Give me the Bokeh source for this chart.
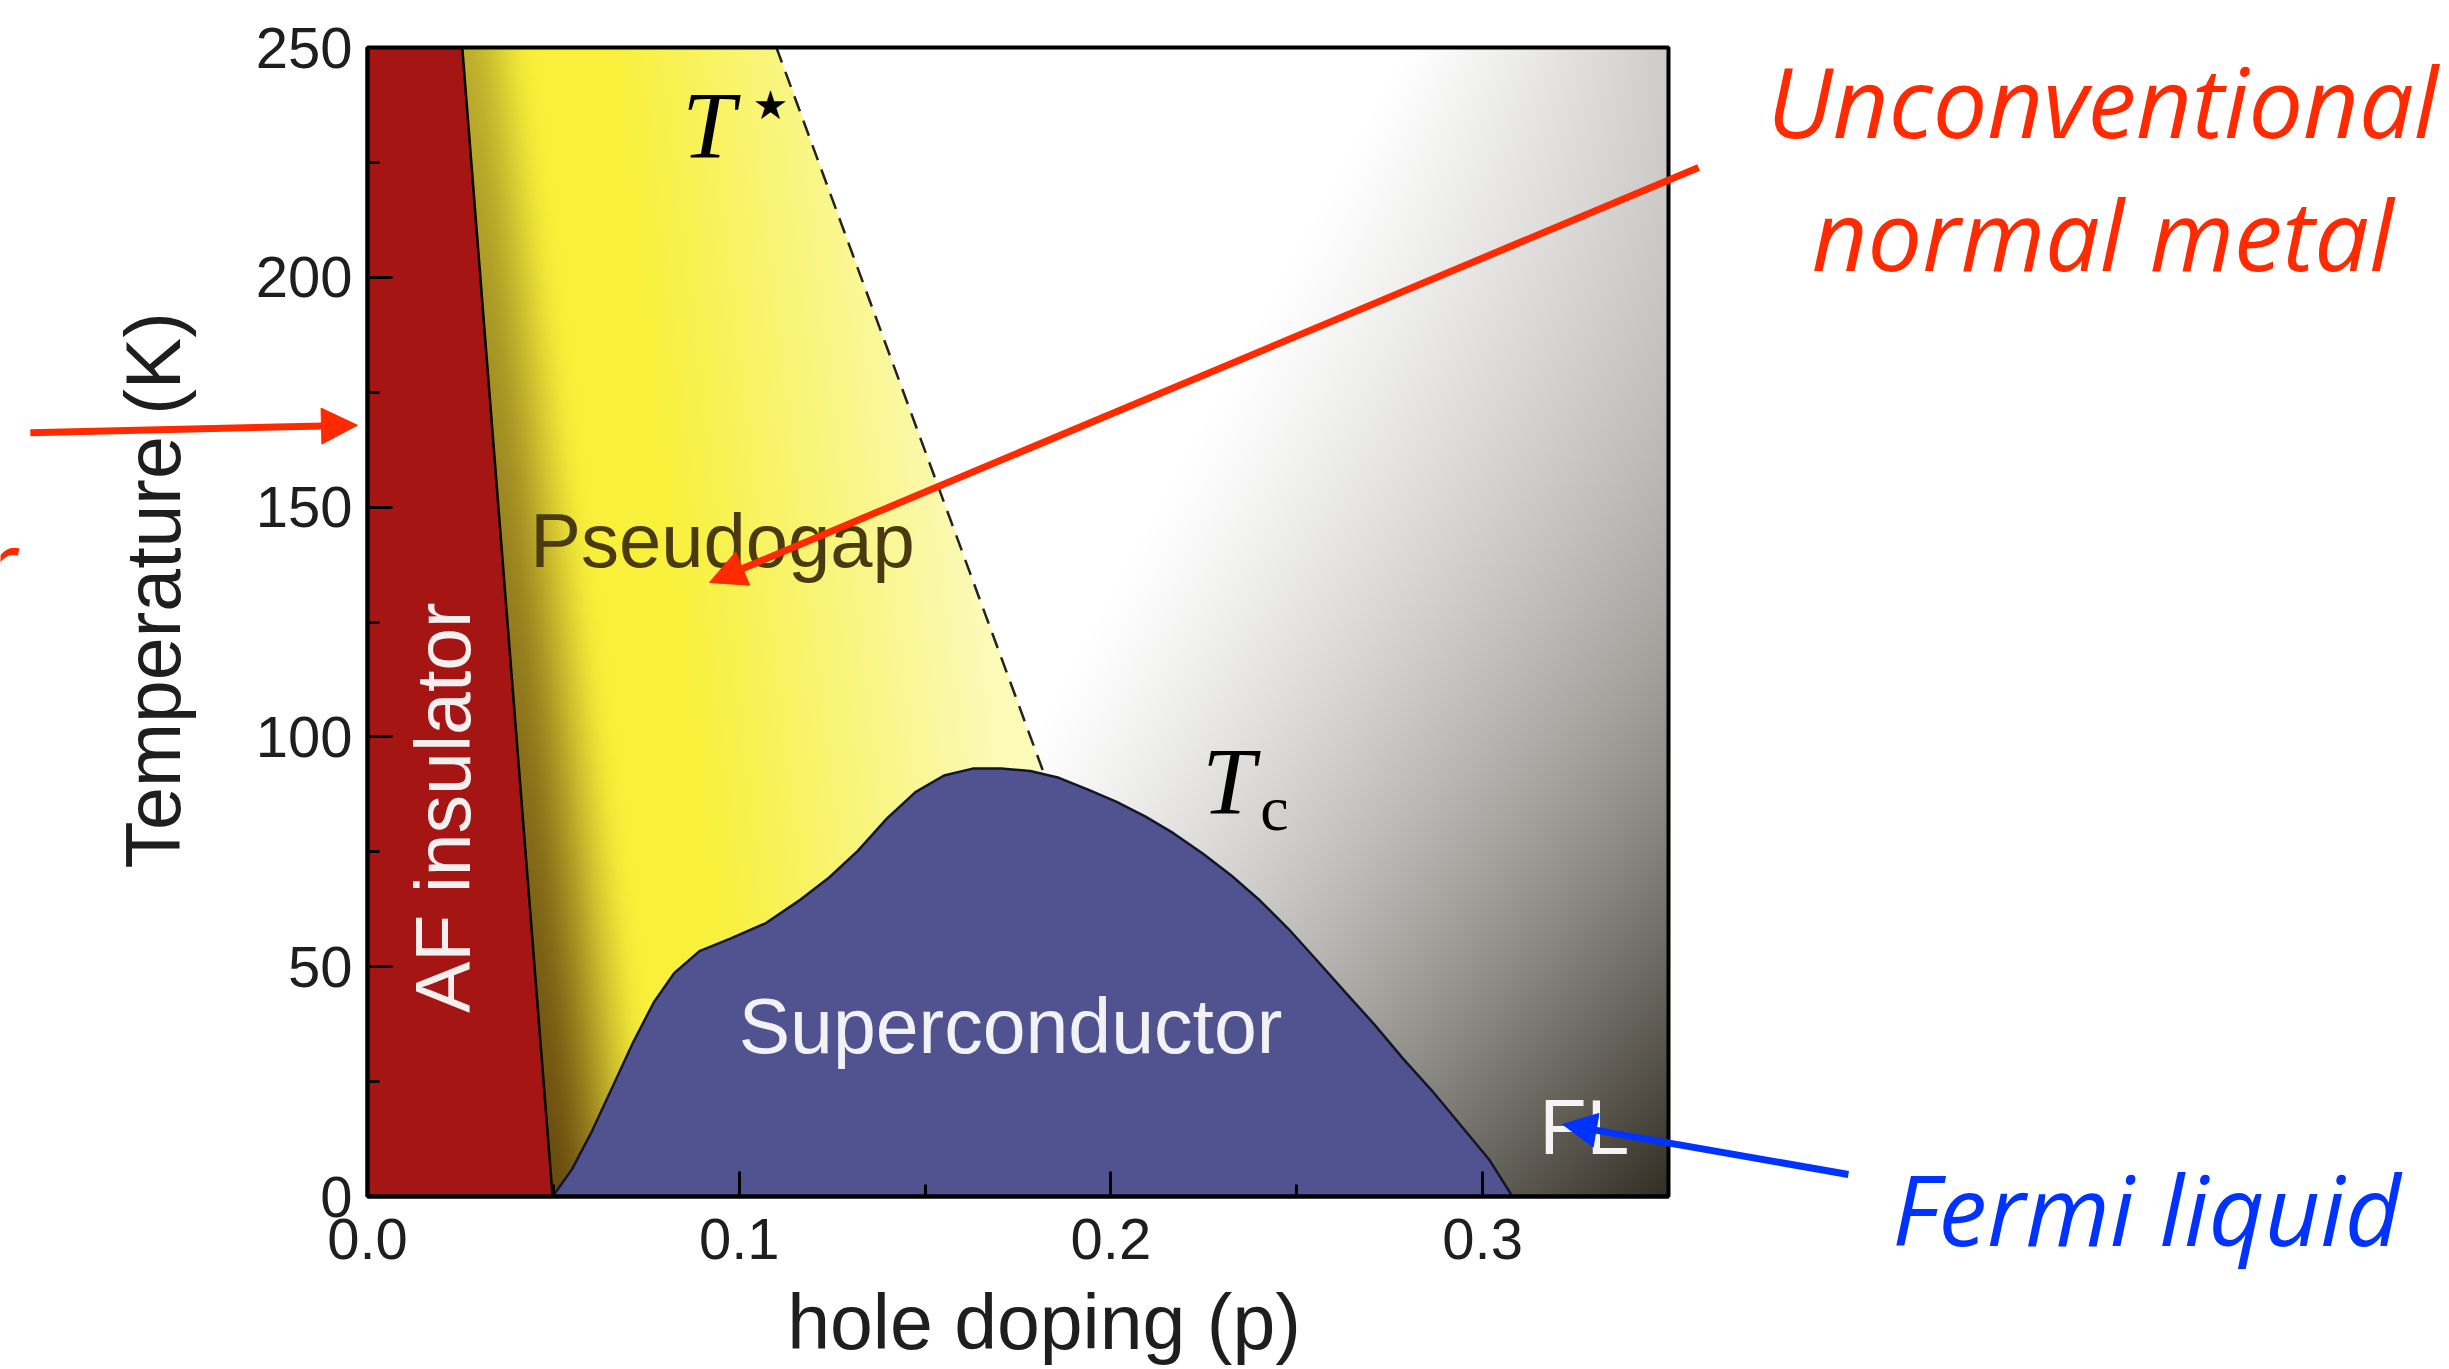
import numpy as np
from bokeh.plotting import figure
from bokeh.models import (Range1d, FixedTicker, PrintfTickFormatter, Label,
                          Arrow, NormalHead, LinearAxis)
from bokeh.embed import file_html
from bokeh.resources import INLINE

# Cuprate phase diagram: hole doping p versus temperature T (K)
af_edge_p = [0.0255, 0.0498]          # edge of the antiferromagnetic insulator
af_edge_T = [250.0, 0.0]

tstar_p = [0.110, 0.182]              # pseudogap crossover line T*
tstar_T = [250.0, 92.0]

# superconducting dome Tc(p)
dome_p = [0.0498, 0.0550, 0.0605, 0.0660, 0.0715, 0.0770, 0.0825, 0.0893,
          0.0976, 0.1072, 0.1165, 0.1242, 0.1319, 0.1397, 0.1474, 0.1551,
          0.1628, 0.1705, 0.1783, 0.1860, 0.1937, 0.2014, 0.2092, 0.2169,
          0.2246, 0.2323, 0.2401, 0.2478, 0.2555, 0.2632, 0.2709, 0.2787,
          0.2864, 0.2941, 0.3018, 0.3080]
dome_T = [0.0, 5.9, 14.4, 24.0, 33.6, 42.2, 48.6, 53.4,
          56.1, 59.5, 64.6, 69.4, 75.2, 82.2, 88.0, 91.6,
          93.1, 93.1, 92.6, 91.1, 88.6, 85.9, 82.7, 79.0,
          74.7, 69.9, 64.4, 58.2, 51.3, 44.3, 37.4, 29.9,
          23.0, 15.5, 8.0, 0.0]

x_major = [0.0, 0.1, 0.2, 0.3]
x_minor = [0.05, 0.15, 0.25]
y_major = [0, 50, 100, 150, 200, 250]
y_minor = [25, 75, 125, 175, 225]

P_MAX, T_MAX = 0.35, 250.0

# page geometry: the diagram box sits inside a wider slide-like canvas
W, H = 2449, 1369
BOX_L, BOX_R, BOX_T, BOX_B = 367, 1668, 47, 1196
kx = P_MAX / (BOX_R - BOX_L)
ky = T_MAX / (BOX_B - BOX_T)

SANS = "Liberation Sans"
SERIF = "Liberation Serif"
NOTE = "Open Sans"
RED = "#FF2A00"
BLUE = "#0033FF"
INK = "#1e1e1e"

# ---------------------------------------------------------------- shading
nx, ny = 651, 575
gp = (np.arange(nx) + 0.5) / nx * P_MAX
gT = (np.arange(ny) + 0.5) / ny * T_MAX
P, T = np.meshgrid(gp, gT)
u, v = P / P_MAX, T / T_MAX


def mix(a, b, f):
    a = np.asarray(a, float)
    b = np.asarray(b, float)
    return a + (b - a) * f[..., None]


p_af = np.interp(T, af_edge_T[::-1], af_edge_p[::-1])
slope = (tstar_p[1] - tstar_p[0]) / (tstar_T[1] - tstar_T[0])
p_star = tstar_p[0] + (T - tstar_T[0]) * slope

# pseudogap: dark olive along the AF edge -> bright yellow -> pale yellow
d = P - p_af
w = 0.032 - 0.012 * v
f1 = np.clip(d / w, 0, 1)
f1 = f1 * f1 * (3 - 2 * f1)
f2 = np.clip((d - w - 0.02) / 0.08, 0, 1)
dark = mix((105, 75, 15), (190, 175, 45), v)
yellow = mix(dark, (248, 240, 58), f1)
yellow = mix(yellow, (251, 250, 182), f2)

# normal metal: white in the upper middle, darkening towards high p, low T
u_white = 0.324 + 0.476 * v
frac = np.clip((u - u_white) / (1 - u_white), 0, 1)
depth = (50 + 155 * (1 - v) ** 2) * frac ** 1.15
grey = np.stack([255 - depth, 255 - 1.02 * depth, 255 - 1.07 * depth], axis=-1)

rgb = np.where((P < p_star)[..., None], yellow, grey)
rgb = np.clip(rgb, 0, 255).astype(np.uint8)
img = np.empty((ny, nx), dtype=np.uint32)
view = img.view(dtype=np.uint8).reshape((ny, nx, 4))
view[..., :3] = rgb
view[..., 3] = 255

# ---------------------------------------------------------------- figure
p = figure(width=W, height=H,
           x_range=Range1d(-BOX_L * kx, P_MAX + (W - BOX_R) * kx),
           y_range=Range1d(-(H - BOX_B) * ky, T_MAX + BOX_T * ky),
           x_axis_location=None, y_axis_location=None,
           output_backend="svg", toolbar_location=None,
           min_border=0, background_fill_color="white",
           border_fill_color="white")
p.grid.visible = False
p.outline_line_color = None

p.image_rgba(image=[img], x=0, y=0, dw=P_MAX, dh=T_MAX)

p.patch(x=[0, 0] + af_edge_p, y=[0, T_MAX] + af_edge_T,
        fill_color="#A51513", line_color=None)
p.line(af_edge_p, af_edge_T, line_color="black", line_width=2.5)
p.patch(dome_p, dome_T, fill_color="#515391",
        line_color="#15152a", line_width=2.5)
p.line(tstar_p, tstar_T, line_color="#222222", line_width=2.5,
       line_dash="16 10")
p.quad(left=[0], right=[P_MAX], bottom=[0], top=[T_MAX],
       fill_color=None, line_color="black", line_width=4)

xa = LinearAxis(fixed_location=0, bounds=(0, P_MAX),
                ticker=FixedTicker(ticks=x_major, minor_ticks=x_minor),
                formatter=PrintfTickFormatter(format="%.1f"))
ya = LinearAxis(fixed_location=0, bounds=(0, T_MAX),
                ticker=FixedTicker(ticks=y_major, minor_ticks=y_minor))
for ax in (xa, ya):
    ax.major_tick_in = 25
    ax.major_tick_out = 0
    ax.minor_tick_in = 12
    ax.minor_tick_out = 0
    ax.major_tick_line_width = 3
    ax.minor_tick_line_width = 3
    ax.axis_line_width = 4
    ax.major_label_text_font = SANS
    ax.major_label_text_font_size = "58px"
    ax.major_label_text_color = INK
xa.major_label_standoff = 22
ya.major_label_standoff = 15
p.add_layout(xa, "below")
p.add_layout(ya, "left")


def note(x, y, text, font, size, color, style="normal", align="center",
         angle=0.0):
    p.add_layout(Label(x=x, y=y, text=text, text_font=font,
                       text_font_size=size, text_font_style=style,
                       text_color=color, text_align=align,
                       text_baseline="middle", angle=angle))


# axis titles
note(-0.0576, 131.9, "Temperature (K)", SANS, "77px", INK, angle=np.pi / 2)
note(0.182, -27.3, "hole doping (p)", SANS, "77px", INK)

# region names
note(0.0202, 84.6, "AF insulator", SANS, "77px", "#F4F0F0", angle=np.pi / 2)
note(0.0955, 142.7, "Pseudogap", SANS, "76px", "#4A3A10")
note(0.173, 37.2, "Superconductor", SANS, "77px", "#F2F2F6")
note(0.3153, 15.2, "FL", SANS, "77px", "#F4F4F4", align="left")

# line names T* and Tc
note(0.0847, 233.0, "T", SERIF, "95px", "black", style="italic", align="left")
note(0.1084, 237.4, "\u2605", "DejaVu Sans", "40px", "black")
note(0.2246, 90.1, "T", SERIF, "95px", "black", style="italic", align="left")
note(0.2402, 84.4, "c", SERIF, "64px", "black", align="left")

# call-outs
note(0.4668, 238.5, "Unconventional", NOTE, "97px", RED, style="italic")
note(0.4668, 209.6, "normal metal", NOTE, "97px", RED, style="italic")
note(0.4786, -2.5, "Fermi liquid", NOTE, "97px", BLUE, style="italic")
note(-0.0944, 137.8, "Mott insulator", NOTE, "97px", RED, style="italic",
     align="right")

p.add_layout(Arrow(x_start=0.3581, y_start=223.9, x_end=0.0920, y_end=133.6,
                   line_color=RED, line_width=7,
                   end=NormalHead(size=36, fill_color=RED, line_color=RED,
                                  line_width=1)))
p.add_layout(Arrow(x_start=-0.0907, y_start=166.2, x_end=-0.0027, y_end=167.8,
                   line_color=RED, line_width=7,
                   end=NormalHead(size=36, fill_color=RED, line_color=RED,
                                  line_width=1)))
p.add_layout(Arrow(x_start=0.3984, y_start=4.8, x_end=0.3215, y_end=15.7,
                   line_color=BLUE, line_width=7,
                   end=NormalHead(size=34, fill_color=BLUE, line_color=BLUE,
                                  line_width=1)))

open("out.html", "w").write(file_html(p, INLINE))
